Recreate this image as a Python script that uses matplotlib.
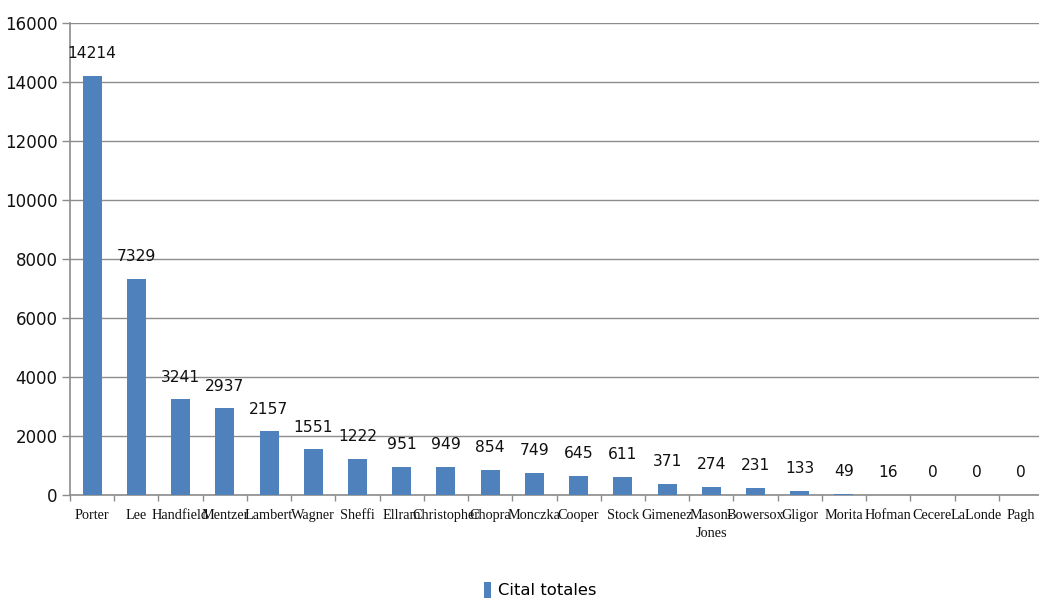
import matplotlib
matplotlib.use("Agg")
import matplotlib.pyplot as plt
import numpy as np

authors = ["Porter", "Lee", "Handfield", "Mentzer", "Lambert", "Wagner", "Sheffi",
           "Ellram", "Christopher", "Chopra", "Monczka", "Cooper", "Stock", "Gimenez",
           "Mason-\nJones", "Bowersox", "Gligor", "Morita", "Hofman", "Cecere",
           "LaLonde", "Pagh"]
citations = [14214, 7329, 3241, 2937, 2157, 1551, 1222, 951, 949, 854, 749, 645,
             611, 371, 274, 231, 133, 49, 16, 0, 0, 0]
series_name = "Cital totales"
yticks = [0, 2000, 4000, 6000, 8000, 10000, 12000, 14000, 16000]

bar_color = "#4F81BD"
grid_color = "#8C8C8C"

fig = plt.figure(figsize=(10.39, 5.98), dpi=100)
ax = fig.add_axes([70 / 1039, 1 - 495 / 598, 973 / 1039, 472 / 598])

x = np.arange(len(authors))
bars = ax.bar(x, citations, width=0.43, color=bar_color, zorder=3,
              label=series_name)

for xi, v in zip(x, citations):
    ax.annotate(str(v), (xi, v), xytext=(0, 16), textcoords="offset points",
                ha="center", va="center", fontsize=11.2, color="#111111",
                family="DejaVu Sans", zorder=4)

ax.set_xlim(-0.5, len(authors) - 0.5)
ax.set_ylim(0, 16000)
ax.set_yticks(yticks)
ax.set_yticklabels([str(t) for t in yticks], fontsize=12, color="#111111",
                   family="DejaVu Sans")

ax.set_xticks(x)
ax.set_xticklabels(authors, fontsize=10.3, family="Liberation Serif",
                   color="#111111", linespacing=1.5)
ax.tick_params(axis="x", which="major", length=0, pad=10)
ax.set_xticks(np.arange(len(authors) + 1) - 0.5, minor=True)
ax.tick_params(axis="x", which="minor", length=4, color=grid_color, width=1)
ax.tick_params(axis="y", which="major", length=6, color=grid_color, width=1, pad=3)

ax.yaxis.grid(True, color=grid_color, linewidth=1, zorder=0)
ax.set_axisbelow(True)
for s in ["top", "right"]:
    ax.spines[s].set_visible(False)
for s in ["left", "bottom"]:
    ax.spines[s].set_color(grid_color)
    ax.spines[s].set_linewidth(1.2)

leg = fig.legend(handles=[bars], labels=[series_name], loc="center",
                 bbox_to_anchor=(540 / 1039, 1 - 590 / 598), frameon=False,
                 handlelength=0.45, handleheight=1.2, handletextpad=0.4,
                 prop={"family": "DejaVu Sans", "size": 11.8})

fig.savefig("out.png", dpi=100)
